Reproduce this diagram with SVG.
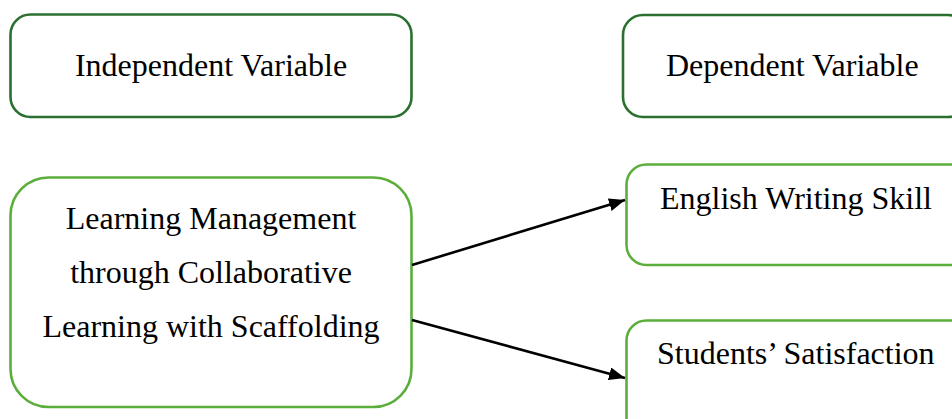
<svg xmlns="http://www.w3.org/2000/svg" width="952" height="419" viewBox="0 0 952 419">
<defs>
<style>
.dark{fill:#fff;stroke:#2b7030;stroke-width:2.6}
.light{fill:#fff;stroke:#5cae3c;stroke-width:2.6}
.t{font-family:'Liberation Serif','Times New Roman','DejaVu Serif',serif;font-size:32px;fill:#000}
.c{text-anchor:middle}
.edge{stroke:#000;stroke-width:2.6;fill:none}
</style>
<marker id="ah" markerWidth="16" markerHeight="13" refX="16" refY="6.5" orient="auto" markerUnits="userSpaceOnUse" viewBox="0 0 16 13">
<path d="M0,0 L16,6.5 L0,13 Z" fill="#000"/>
</marker>
</defs>
<rect width="952" height="419" fill="#fff"/>
<g id="independent">
<rect class="dark" x="10.5" y="14.5" width="401" height="102.5" rx="20"/>
<text class="t c" x="211" y="76" font-family="Liberation Serif, serif">Independent Variable</text>
</g>
<g id="dependent">
<rect class="dark" x="623" y="15" width="345" height="102" rx="20"/>
<text class="t" x="666" y="76" font-family="Liberation Serif, serif">Dependent Variable</text>
</g>
<g id="learning">
<rect class="light" x="10.5" y="177.5" width="401" height="229.5" rx="38"/>
<text class="t c" x="211" y="229" font-family="Liberation Serif, serif">Learning Management</text>
<text class="t c" x="211" y="283" font-family="Liberation Serif, serif">through Collaborative</text>
<text class="t c" x="211" y="337" font-family="Liberation Serif, serif">Learning with Scaffolding</text>
</g>
<g id="writing">
<rect class="light" x="626.5" y="164.5" width="345" height="100.5" rx="20"/>
<text class="t" x="660" y="209" font-family="Liberation Serif, serif">English Writing Skill</text>
</g>
<g id="satisfaction">
<rect class="light" x="626.5" y="320.5" width="345" height="130" rx="20"/>
<text class="t" x="657" y="364" font-family="Liberation Serif, serif">Students’ Satisfaction</text>
</g>
<g id="connectors">
<line class="edge" x1="412" y1="265" x2="625" y2="200" marker-end="url(#ah)"/>
<line class="edge" x1="412" y1="320" x2="625" y2="378" marker-end="url(#ah)"/>
</g>
</svg>
